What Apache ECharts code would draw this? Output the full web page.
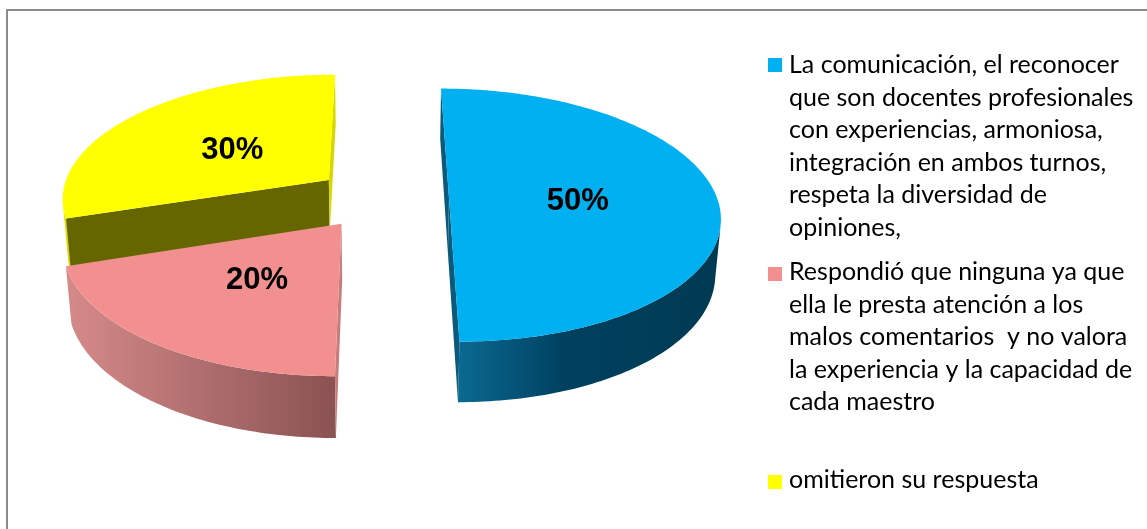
<!DOCTYPE html>
<html>
<head>
<meta charset="utf-8">
<script src="https://cdn.jsdelivr.net/npm/echarts@6/dist/echarts.min.js"></script>
<style>
html, body { margin: 0; padding: 0; background: #fff; }
#pie3d { width: 1147px; height: 529px; }
</style>
</head>
<body>
<div id="pie3d"></div>
<script>
// datos del gráfico
var categories = [
    'La comunicación, el reconocer\nque son docentes profesionales\ncon experiencias, armoniosa,\nintegración en ambos turnos,\nrespeta la diversidad de\nopiniones,',
    'Respondió que ninguna ya que\nella le presta atención a los\nmalos comentarios  y no valora\nla experiencia y la capacidad de\ncada maestro',
    'omitieron su respuesta'
];
var values = [50, 20, 30];
var percentLabels = ['50%', '20%', '30%'];

// colores: cara superior, pared lateral, cortes radiales
var topColors = ['#00B0F0', '#F29090', '#FFFF00'];
var wallColors = [['#0A6A92', '#004160', '#003A52'], ['#D68A8A', '#8A5252'], ['#E6E600', '#D0D000']];
var cutStartColors = ['#0B5A7C', '#C87C7C', '#666600'];
var cutEndColors = ['#0B5A7C', '#C87C7C', '#D8D800'];

var chartDom = document.getElementById('pie3d');
var myChart = echarts.init(chartDom);

// cámara / proyección en perspectiva
var view = {
    cx: 382, cy: 198, f: 1761, D: 6.57,
    alpha: 27.6 * Math.PI / 180, cam: 0,
    h: 0.235, R: 1, explode: 0.25
};

function project(X, Y, Z) {
    var ca = Math.cos(view.alpha), sa = Math.sin(view.alpha);
    var depth = Y * ca - Z * sa + view.D;
    var up = Y * sa + Z * ca;
    return [
        view.cx + view.f * (X - view.cam) / depth + view.f * view.cam / view.D,
        view.cy - view.f * up / depth
    ];
}

function facesCamera(nx, ny, px, py) {
    var camX = view.cam, camY = -view.D * Math.cos(view.alpha);
    return nx * (camX - px) + ny * (camY - py) > 0;
}

var total = values.reduce(function (a, b) { return a + b; }, 0);
var starts = [];
var acc = 0;
values.forEach(function (v) { starts.push(acc / total * Math.PI * 2); acc += v; });

function renderSlice(params, api) {
    var i = params.dataIndex;
    var a0 = starts[i];
    var a1 = a0 + api.value(0) / total * Math.PI * 2;
    var mid = (a0 + a1) / 2;
    var ox = view.explode * Math.sin(mid), oy = view.explode * Math.cos(mid);
    var R = view.R, h = view.h;
    var n = Math.max(12, Math.ceil((a1 - a0) / (Math.PI / 180)));
    var rank = 100 - Math.round(Math.cos(mid) * 40);
    var children = [];

    function pt(th, r, z) {
        return project(ox + r * Math.sin(th), oy + r * Math.cos(th), z);
    }

    // paredes exteriores visibles
    var runs = [], cur = null;
    for (var k = 0; k < n; k++) {
        var t0 = a0 + (a1 - a0) * k / n, t1 = a0 + (a1 - a0) * (k + 1) / n, tm = (t0 + t1) / 2;
        var vis = facesCamera(Math.sin(tm), Math.cos(tm), ox + R * Math.sin(tm), oy + R * Math.cos(tm));
        if (vis) {
            if (!cur) { cur = [t0]; runs.push(cur); }
            cur.push(t1);
        } else {
            cur = null;
        }
    }
    runs.forEach(function (run) {
        var topPts = run.map(function (t) { return pt(t, R, 0); });
        var botPts = run.map(function (t) { return pt(t, R, -h); }).reverse();
        var pts = topPts.concat(botPts);
        var xs = pts.map(function (p) { return p[0]; });
        var minX = Math.min.apply(null, xs), maxX = Math.max.apply(null, xs);
        var cols = wallColors[i];
        var stops = cols.map(function (c, j) { return { offset: j / (cols.length - 1), color: c }; });
        if (cols.length === 3) stops[1].offset = 0.4;
        children.push({
            type: 'polygon', z2: rank,
            shape: { points: pts },
            style: { fill: new echarts.graphic.LinearGradient(minX, 0, maxX, 0, stops, true) }
        });
    });

    // caras de corte radial
    [[a0, a0 - Math.PI / 2, cutStartColors[i]], [a1, a1 + Math.PI / 2, cutEndColors[i]]].forEach(function (c) {
        var th = c[0], nth = c[1];
        if (facesCamera(Math.sin(nth), Math.cos(nth), ox + 0.5 * R * Math.sin(th), oy + 0.5 * R * Math.cos(th))) {
            children.push({
                type: 'polygon', z2: rank,
                shape: { points: [pt(th, 0, 0), pt(th, R, 0), pt(th, R, -h), pt(th, 0, -h)] },
                style: { fill: c[2] }
            });
        }
    });

    // cara superior
    var topFace = [pt(0, 0, 0)];
    for (var m = 0; m <= n; m++) topFace.push(pt(a0 + (a1 - a0) * m / n, R, 0));
    children.push({
        type: 'polygon', z2: rank + 1,
        shape: { points: topFace },
        style: { fill: topColors[i] }
    });

    // etiqueta de porcentaje
    var lp = pt(mid, 0.48, 0);
    children.push({
        type: 'text', z2: 1000,
        style: {
            text: percentLabels[i], x: lp[0], y: lp[1] + 3,
            align: 'center', verticalAlign: 'middle',
            font: 'bold 31px "Liberation Sans", Arial, sans-serif', fill: '#000'
        }
    });

    return { type: 'group', children: children };
}

// leyenda
var legendTops = [49, 256, 464];
var iconTops = [58, 267, 475];
var legendGraphics = [{
    type: 'rect', z: 0,
    shape: { x: 7, y: 10, width: 1170, height: 560 },
    style: { fill: 'none', stroke: '#8c8c8c', lineWidth: 2 }
}];
categories.forEach(function (name, i) {
    legendGraphics.push({
        type: 'rect',
        shape: { x: 768, y: iconTops[i], width: 14, height: 14 },
        style: { fill: topColors[i] }
    });
    legendGraphics.push({
        type: 'text',
        style: {
            text: name, x: 789, y: legendTops[i],
            verticalAlign: 'top',
            font: '25px Lato, sans-serif', lineHeight: 32.5, fill: '#000'
        }
    });
});

var option = {
    animation: false,
    backgroundColor: '#fff',
    graphic: legendGraphics,
    series: [{
        type: 'custom',
        coordinateSystem: 'none',
        renderItem: renderSlice,
        data: values.map(function (v, i) { return [v, i]; })
    }]
};
myChart.setOption(option);

window.addEventListener('resize', function () {
    myChart.resize();
});
</script>
</body>
</html>
